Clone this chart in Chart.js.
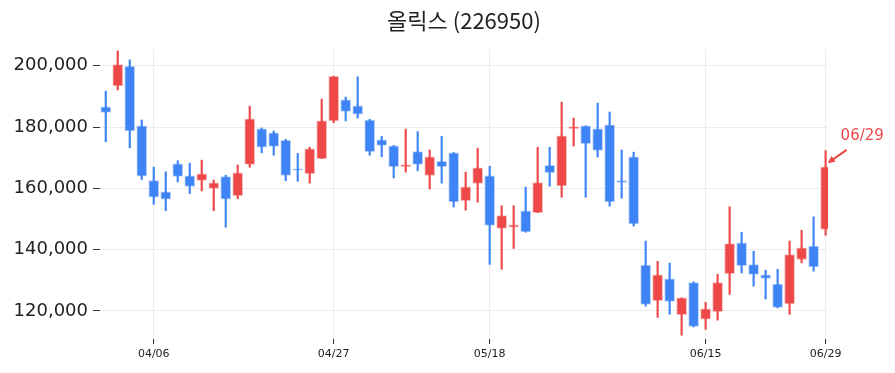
<!DOCTYPE html>
<html>
<head>
<meta charset="utf-8">
<script src="https://cdn.jsdelivr.net/npm/chart.js@4.4.0/dist/chart.umd.min.js"></script>
<style>
html, body { margin: 0; padding: 0; background: #fff; }
#wrap { position: relative; width: 895px; height: 373px; }
</style>
</head>
<body>
<div id="wrap"><canvas id="chart"></canvas></div>
<script>
// 올릭스 일봉 데이터
const chartTitle = '올릭스 (226950)';
const dates = [
  '03/31','04/03','04/04','04/05','04/06','04/07','04/10','04/11','04/12','04/13',
  '04/14','04/17','04/18','04/19','04/20','04/21','04/24','04/25','04/26','04/27',
  '04/28','05/02','05/03','05/04','05/08','05/09','05/10','05/11','05/12','05/15',
  '05/16','05/17','05/18','05/19','05/22','05/23','05/24','05/25','05/26','05/30',
  '05/31','06/01','06/02','06/05','06/07','06/08','06/09','06/12','06/13','06/14',
  '06/15','06/16','06/19','06/20','06/21','06/22','06/23','06/26','06/27','06/28',
  '06/29'
];
const opens = [
  186600,193400,199800,180400,162500,158900,168000,164100,162600,160000,
  163800,157600,167800,179400,178100,175700,166400,164800,169700,182000,
  188900,186900,182300,175800,173900,167100,172000,164200,168800,171600,
  156000,161600,164100,146900,147300,152700,152100,167500,160800,179500,
  180400,179400,180700,162500,170300,135000,123400,130500,118800,129300,
  117300,119800,132200,142200,135100,131800,128800,122300,136800,141200,
  146600
];
const highs = [
  191700,204800,201900,182300,166900,165400,169000,168200,169200,162700,
  164300,167600,186800,179700,178700,176000,171400,173400,189100,196600,
  189800,196400,182500,177000,174000,179300,178500,172500,177000,171700,
  165300,173100,167200,154300,154300,160400,173400,173400,188100,182900,
  180400,187800,184900,172500,171800,142800,136200,135600,124300,129500,
  122800,132000,154000,145700,139500,133300,133600,142800,146300,150700,
  172300
];
const lows = [
  175200,192100,173200,162900,154800,152700,162100,158300,159200,152700,
  147300,156600,166900,171600,170800,162500,162300,161700,169700,181400,
  182000,182900,170800,170300,163400,165300,165700,159800,161700,153900,
  152900,155500,135200,133600,140400,145700,152100,160700,157100,173800,
  157100,170200,154200,156800,147700,121600,117900,118900,112100,114800,
  114000,117000,125400,132400,128100,123900,121000,118900,135700,133000,
  144700
];
const closes = [
  184800,200400,178700,164000,157100,156500,163900,160600,164700,161800,
  156500,165100,182700,173400,173700,164200,165900,172900,182000,196500,
  185100,184200,172000,174000,167100,167700,167800,170300,167100,155600,
  160500,166700,147900,151100,148100,145800,161900,165100,177100,180100,
  174600,172400,155600,161900,148400,122100,131800,123100,124300,115000,
  120700,129300,142000,134800,131900,130600,121200,138400,140600,134400,
  167000
];
const tickDates = ['04/06', '04/27', '05/18', '06/15', '06/29'];
const yTicks = [120000, 140000, 160000, 180000, 200000];
const markLabel = '06/29';

const UP = 'rgb(238, 72, 72)';
const DOWN = 'rgb(62, 132, 245)';
const UP_EDGE = 'rgba(238, 72, 72, 0.35)';
const DOWN_EDGE = 'rgba(62, 132, 245, 0.35)';

const isUp = closes.map((c, i) => c >= opens[i]);
const bodyColors = isUp.map(u => u ? UP : DOWN);
const edgeColors = isUp.map(u => u ? UP_EDGE : DOWN_EDGE);

const wickData = dates.map((d, i) => ({ x: i, y: [lows[i], highs[i]] }));
const bodyData = dates.map((d, i) => ({
  x: i,
  y: [Math.min(opens[i], closes[i]), Math.max(opens[i], closes[i])]
}));

// 제목을 플롯 영역 중앙에 그리기
const titlePlugin = {
  id: 'plotTitle',
  afterDraw(chart) {
    const { ctx, chartArea } = chart;
    ctx.save();
    ctx.font = '22px "Noto Sans CJK KR", "Noto Sans", sans-serif';
    ctx.fillStyle = '#222';
    ctx.textAlign = 'center';
    ctx.textBaseline = 'middle';
    ctx.fillText(chartTitle, (chartArea.left + chartArea.right) / 2, 21);
    ctx.restore();
  }
};

// 마지막 봉에 날짜 화살표 표시
const markPlugin = {
  id: 'lastMark',
  afterDraw(chart) {
    const { ctx } = chart;
    const xs = chart.scales.x, ys = chart.scales.y;
    const i = dates.indexOf(markLabel);
    const tx = xs.getPixelForValue(i) + 2;
    const ty = ys.getPixelForValue(closes[i]) - 4;
    const sx = tx + 19, sy = ty - 13;
    ctx.save();
    ctx.strokeStyle = UP;
    ctx.fillStyle = UP;
    ctx.lineWidth = 2;
    ctx.beginPath();
    ctx.moveTo(sx, sy);
    ctx.lineTo(tx + 2, ty - 1);
    ctx.stroke();
    // 화살촉
    const ang = Math.atan2(ty - sy, tx - sx);
    ctx.beginPath();
    ctx.moveTo(tx, ty);
    ctx.lineTo(tx - 8 * Math.cos(ang - 0.45), ty - 8 * Math.sin(ang - 0.45));
    ctx.lineTo(tx - 8 * Math.cos(ang + 0.45), ty - 8 * Math.sin(ang + 0.45));
    ctx.closePath();
    ctx.fill();
    ctx.font = '15px "DejaVu Sans", sans-serif';
    ctx.textAlign = 'left';
    ctx.textBaseline = 'middle';
    ctx.fillText(markLabel, tx + 13, ty - 27);
    ctx.restore();
  }
};

new Chart(document.getElementById('chart'), {
  type: 'bar',
  data: {
    datasets: [
      {
        label: 'wick',
        data: wickData,
        backgroundColor: bodyColors,
        barThickness: 1.5,
        borderWidth: 0
      },
      {
        label: 'body',
        data: bodyData,
        backgroundColor: bodyColors,
        borderColor: edgeColors,
        borderWidth: 1,
        borderSkipped: false,
        barThickness: 10
      }
    ]
  },
  options: {
    responsive: true,
    maintainAspectRatio: false,
    animation: false,
    layout: { padding: { top: 49, right: 67, left: 0, bottom: 0 } },
    datasets: { bar: { grouped: false } },
    plugins: {
      legend: { display: false },
      tooltip: { enabled: false },
      title: { display: false }
    },
    scales: {
      x: {
        type: 'linear',
        min: -0.48,
        max: 60.2,
        offset: false,
        afterFit(scale) { scale.height = 34; },
        afterBuildTicks(scale) {
          scale.ticks = tickDates.map(d => ({ value: dates.indexOf(d) }));
        },
        ticks: {
          autoSkip: false,
          maxRotation: 0,
          padding: 4,
          color: '#222',
          font: { family: 'DejaVu Sans', size: 11 },
          callback: v => dates[v]
        },
        grid: { offset: false, color: '#ececec', tickColor: '#333', tickLength: 5, lineWidth: 1 },
        border: { display: false }
      },
      y: {
        min: 110860,
        max: 205450,
        afterFit(scale) { scale.width = 100; },
        afterBuildTicks(scale) {
          scale.ticks = yTicks.map(v => ({ value: v }));
        },
        ticks: {
          padding: 5,
          color: '#222',
          font: { family: 'DejaVu Sans', size: 18 },
          callback: v => v.toLocaleString('en-US')
        },
        grid: { color: '#ececec', tickColor: '#333', tickLength: 7, lineWidth: 1 },
        border: { display: false }
      }
    }
  },
  plugins: [titlePlugin, markPlugin]
});
</script>
</body>
</html>
